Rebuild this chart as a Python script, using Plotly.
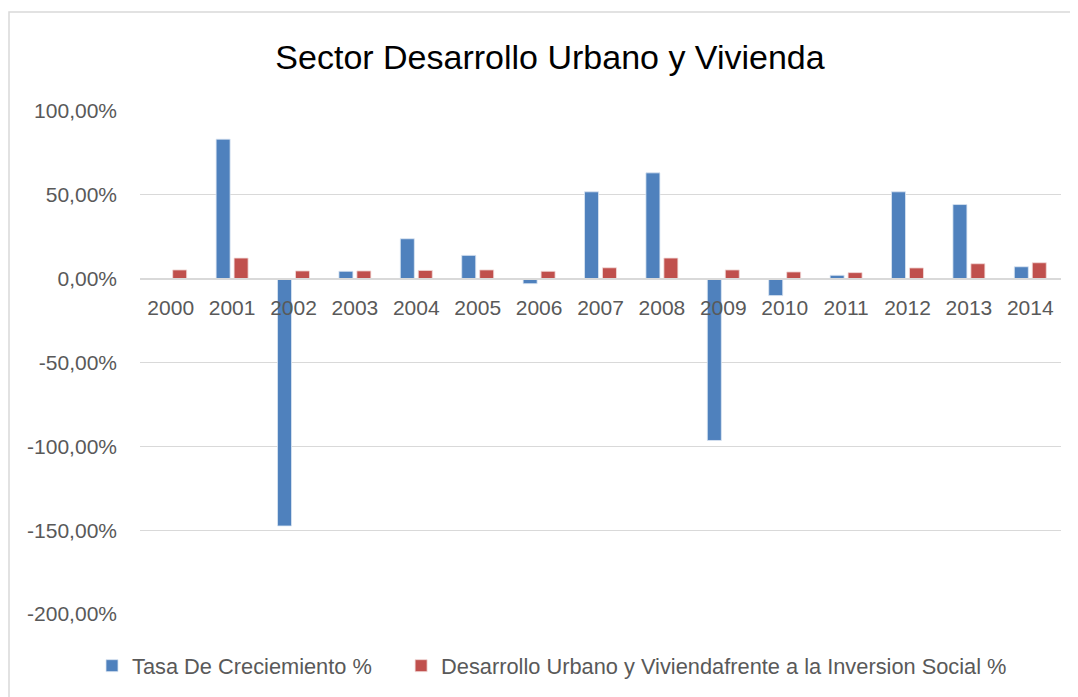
import plotly.graph_objects as go

years = ["2000", "2001", "2002", "2003", "2004", "2005", "2006", "2007",
         "2008", "2009", "2010", "2011", "2012", "2013", "2014"]
tasa_crecimiento = [0.0, 83.2, -147.5, 4.4, 23.8, 13.9, -3.0, 51.8,
                    63.1, -96.5, -10.1, 2.0, 51.8, 44.2, 7.1]
desarrollo_vs_inversion = [5.2, 12.3, 4.6, 4.6, 4.9, 5.2, 4.4, 6.5,
                           12.3, 5.2, 4.0, 3.6, 6.4, 8.9, 9.5]
y_tick_vals = [100, 50, 0, -50, -100, -150, -200]
y_tick_text = ["100,00%", "50,00%", "0,00%", "-50,00%", "-100,00%", "-150,00%", "-200,00%"]
series_names = ["Tasa De Creciemiento %",
                "Desarrollo Urbano y Viviendafrente a la Inversion Social %"]

FONT = "Liberation Sans, Arial, sans-serif"
GREY = "#595959"

fig = go.Figure()
fig.add_trace(go.Bar(x=years, y=tasa_crecimiento, name=series_names[0] + "\u00a0" * 4,
                     marker=dict(color="#4F81BD", line=dict(color="#dce6f2", width=0.8))))
fig.add_trace(go.Bar(x=years, y=desarrollo_vs_inversion, name=series_names[1],
                     marker=dict(color="#C0504D", line=dict(color="#f2dcdb", width=0.8))))

OFF = 8  # page body margin
W, H = 1078 - OFF, 697 - OFF
L, R, T, B = 140 - OFF, 17, 111 - OFF, 83
pw, ph = W - L - R, H - T - B

fig.update_layout(
    width=W, height=H,
    margin=dict(l=L, r=R, t=T, b=B, autoexpand=False),
    paper_bgcolor="white", plot_bgcolor="white",
    barmode="group", bargap=0.415, bargroupgap=0.22,
    font=dict(family=FONT, color=GREY, size=21),
    title=dict(text="Sector Desarrollo Urbano y Vivienda", x=(550 - 140) / pw, xref="paper",
               xanchor="center", y=1 - (57 - OFF) / H, yanchor="middle",
               font=dict(family=FONT, size=34, color="#000000")),
    showlegend=True,
    legend=dict(orientation="h", x=(92 - 140) / pw, xanchor="left",
                y=(614 - 666) / ph, yanchor="middle",
                bgcolor="rgba(0,0,0,0)",
                font=dict(family=FONT, size=21.8, color=GREY),
                itemwidth=30, traceorder="normal"),
    xaxis=dict(type="category", anchor="free", position=200 / 300,
               showline=True, linecolor="#d9d9d9", linewidth=1.5,
               showgrid=False, ticks="", ticklabelstandoff=10, automargin=False,
               tickfont=dict(family=FONT, size=21, color=GREY)),
    yaxis=dict(range=[-200, 100], tickvals=y_tick_vals, ticktext=y_tick_text,
               showgrid=True, gridcolor="#d9d9d9", gridwidth=1.2,
               zeroline=False, showline=False, ticks="", ticklabelstandoff=22,
               automargin=False,
               tickfont=dict(family=FONT, size=21, color=GREY)),
    shapes=[dict(type="rect", xref="paper", yref="paper",
                 x0=(9 - 140) / pw, x1=(1300 - 140) / pw,
                 y0=(614 - 800) / ph, y1=(614 - 12) / ph,
                 line=dict(color="#d9d9d9", width=1.5), fillcolor="rgba(0,0,0,0)",
                 layer="below")],
)

fig.write_html("out.html")
